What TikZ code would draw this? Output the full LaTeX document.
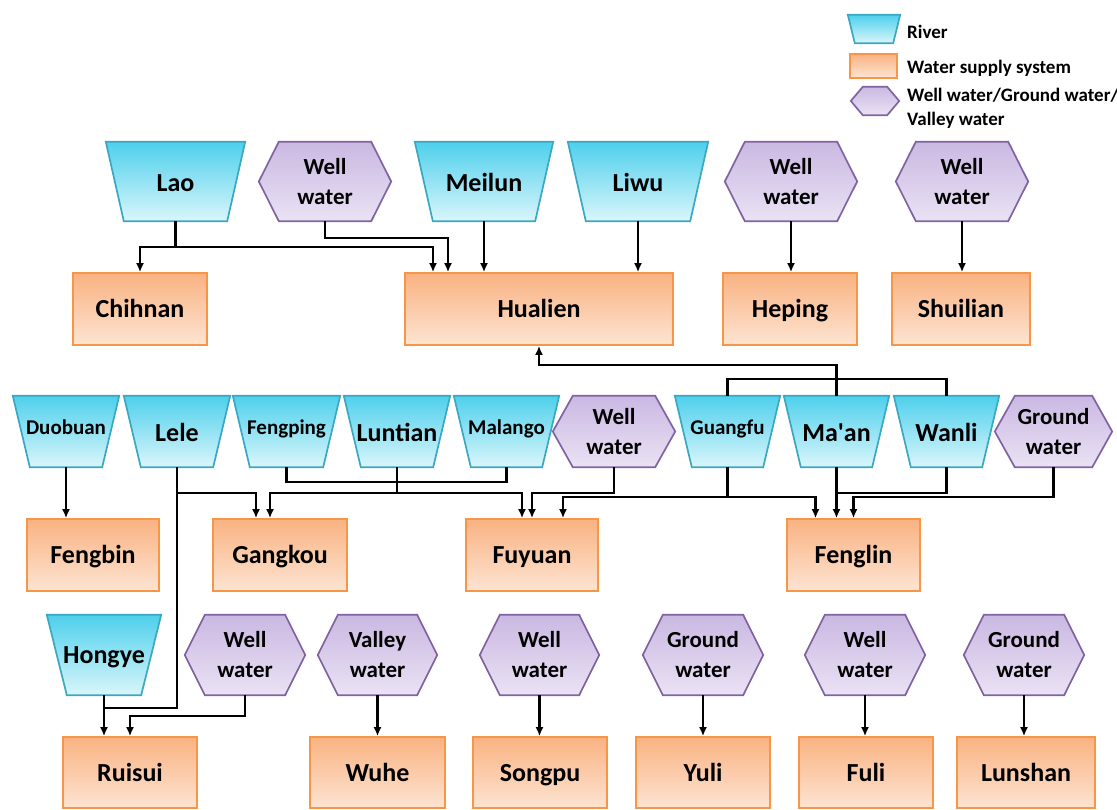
\documentclass[tikz,border=0pt]{standalone}
\usepackage{fontspec}
\setmainfont{Carlito}
\usetikzlibrary{arrows.meta,calc}
\pgfdeclarelayer{background}
\pgfsetlayers{background,main}
\definecolor{rivtop}{RGB}{78,208,236}
\definecolor{rivbot}{RGB}{218,246,251}
\definecolor{rivline}{RGB}{58,168,194}
\definecolor{boxtop}{RGB}{249,178,130}
\definecolor{boxbot}{RGB}{253,228,210}
\definecolor{boxline}{RGB}{247,150,70}
\definecolor{hextop}{RGB}{202,184,226}
\definecolor{hexbot}{RGB}{234,226,244}
\definecolor{hexline}{RGB}{128,100,162}
\newcommand\fbig{\fontsize{26}{30}\selectfont\bfseries}
\newcommand\fmid{\fontsize{21}{25}\selectfont\bfseries}
\newcommand\fhex{\fontsize{23}{30}\selectfont\bfseries}
\newcommand\fleg{\fontsize{19}{24}\selectfont\bfseries}
\newcommand\rivshape[2][18]{\path[rivs] (#2.north west) -- (#2.north east) -- ([xshift=-#1pt]#2.south east) -- ([xshift=#1pt]#2.south west) -- cycle;}
\newcommand\hexshape[2][20]{\path[hexs] (#2.west) -- ([xshift=#1pt]#2.north west) -- ([xshift=-#1pt]#2.north east) -- (#2.east) -- ([xshift=-#1pt]#2.south east) -- ([xshift=#1pt]#2.south west) -- cycle;}
\begin{document}
\begin{tikzpicture}[x=1pt,y=-1pt,
  shp/.style={inner sep=0pt, align=center, text=black},
  rowA/.style={shp, minimum height=79pt},
  rowB/.style={shp, minimum height=71pt},
  rowC/.style={shp, minimum height=80pt},
  bigA/.style={font=\fbig, text height=21pt, text depth=0pt},
  bigB/.style={font=\fbig, text height=19pt, text depth=0pt},
  bigC/.style={font=\fbig, text height=17pt, text depth=1pt},
  smallB/.style={font=\fmid, text height=14pt, text depth=7pt},
  hexf/.style={font=\fhex},
  rivs/.style={top color=rivtop, bottom color=rivbot, draw=rivline, line width=1.7pt, line join=miter},
  hexs/.style={top color=hextop, bottom color=hexbot, draw=hexline, line width=1.7pt, line join=miter},
  sbox/.style={shp, top color=boxtop, bottom color=boxbot, draw=boxline, line width=1.7pt, font=\fbig, text height=18pt, text depth=1pt},
  boxA/.style={sbox, minimum height=72pt},
  boxB/.style={sbox, minimum height=71pt},
  con/.style={line width=2.1pt, black},
  arr/.style={con, -{Latex[length=9pt,width=8pt]}},
  legtext/.style={inner sep=0pt, anchor=base west, font=\fleg}
]
\useasboundingbox (0,0) rectangle (1117,810);

% ---------- legend ----------
\node[shp, minimum width=52pt, minimum height=28pt] (legR) at (874,29) {};
\node[shp, top color=boxtop, bottom color=boxbot, draw=boxline, line width=1.5pt, minimum width=47pt, minimum height=24pt] (legB) at (873.5,66) {};
\node[shp, minimum width=48pt, minimum height=28pt] (legH) at (875,101) {};
\node[legtext] (legRt) at (907,39) {River};
\node[legtext] (legBt) at (907,74) {Water supply system};
\node[legtext] (legHt) at (907,102) {Well water/Ground water/};
\node[legtext] (legHt2) at (907,126) {Valley water};

% ---------- top row ----------
\node[rowA, minimum width=139pt, bigA] (lao) at (175.5,181.5) {Lao};
\node[rowA, minimum width=132pt, hexf] (wwA) at (325,181.5) {Well\\water};
\node[rowA, minimum width=138pt, bigA] (meilun) at (484,181.5) {Meilun};
\node[rowA, minimum width=140pt, bigA] (liwu) at (638,181.5) {Liwu};
\node[rowA, minimum width=132pt, hexf] (wwB) at (791,181.5) {Well\\water};
\node[rowA, minimum width=132pt, hexf] (wwC) at (962,181.5) {Well\\water};

\node[boxA, minimum width=134pt] (chihnan) at (140,309) {Chihnan};
\node[boxA, minimum width=268pt] (hualien) at (539,309) {Hualien};
\node[boxA, minimum width=134pt] (heping) at (790,309) {Heping};
\node[boxA, minimum width=138pt] (shuilian) at (961,309) {Shuilian};

% ---------- middle row ----------
\node[rowB, minimum width=106pt, smallB] (duobuan) at (66,431.5) {Duobuan};
\node[rowB, minimum width=106pt, bigB] (lele) at (177,431.5) {Lele};
\node[rowB, minimum width=107pt, smallB] (fengping) at (286.5,431.5) {Fengping};
\node[rowB, minimum width=106pt, bigB] (luntian) at (397,431.5) {Luntian};
\node[rowB, minimum width=105pt, smallB] (malango) at (506.5,431.5) {Malango};
\node[rowB, minimum width=122pt, hexf] (wwD) at (614,431.5) {Well\\water};
\node[rowB, minimum width=105pt, smallB] (guangfu) at (727.5,431.5) {Guangfu};
\node[rowB, minimum width=105pt, bigB] (maan) at (836.5,431.5) {Ma\textquotesingle an};
\node[rowB, minimum width=105pt, bigB] (wanli) at (946.5,431.5) {Wanli};
\node[rowB, minimum width=117pt, hexf] (gwA) at (1053.5,431.5) {Ground\\water};

\node[boxA, minimum width=132pt] (fengbin) at (93,555) {Fengbin};
\node[boxA, minimum width=134pt] (gangkou) at (280,555) {Gangkou};
\node[boxA, minimum width=132pt] (fuyuan) at (532,555) {Fuyuan};
\node[boxA, minimum width=133pt] (fenglin) at (853.5,555) {Fenglin};

% ---------- bottom row ----------
\node[rowC, minimum width=114pt, bigC] (hongye) at (104,655) {Hongye};
\node[rowC, minimum width=120pt, hexf] (wwE) at (245,655) {Well\\water};
\node[rowC, minimum width=119pt, hexf] (valley) at (377.5,655) {Valley\\water};
\node[rowC, minimum width=119pt, hexf] (wwF) at (539.5,655) {Well\\water};
\node[rowC, minimum width=120pt, hexf] (gwB) at (703,655) {Ground\\water};
\node[rowC, minimum width=120pt, hexf] (wwG) at (865,655) {Well\\water};
\node[rowC, minimum width=120pt, hexf] (gwC) at (1024,655) {Ground\\water};

\node[boxB, minimum width=134pt] (ruisui) at (130,772.5) {Ruisui};
\node[boxB, minimum width=135pt] (wuhe) at (377.5,772.5) {Wuhe};
\node[boxB, minimum width=134pt] (songpu) at (540,772.5) {Songpu};
\node[boxB, minimum width=134pt] (yuli) at (703,772.5) {Yuli};
\node[boxB, minimum width=134pt] (fuli) at (866,772.5) {Fuli};
\node[boxB, minimum width=138pt] (lunshan) at (1026,772.5) {Lunshan};

% ---------- shapes behind the texts ----------
\begin{pgfonlayer}{background}
\rivshape[7]{legR}
\hexshape[12]{legH}
\rivshape{lao}\rivshape{meilun}\rivshape{liwu}
\hexshape{wwA}\hexshape{wwB}\hexshape{wwC}
\rivshape[17]{duobuan}\rivshape[17]{lele}\rivshape[17]{fengping}\rivshape[17]{luntian}\rivshape[17]{malango}
\rivshape[17]{guangfu}\rivshape[17]{maan}\rivshape[17]{wanli}
\hexshape{wwD}\hexshape{gwA}
\rivshape[20]{hongye}
\hexshape{wwE}\hexshape{valley}\hexshape{wwF}\hexshape{gwB}\hexshape{wwG}\hexshape{gwC}
\end{pgfonlayer}

% ---------- connectors: top ----------
\draw[arr] (lao.south) -- ++(0,26) -| (chihnan.north);
\draw[arr] (lao.south) -- ++(0,26) -| ([xshift=-106pt]hualien.north);
\draw[arr] (wwA.south) -- ++(0,17) -| ([xshift=-91pt]hualien.north);
\draw[arr] (meilun.south) -- (meilun.south |- hualien.north);
\draw[arr] (liwu.south) -- (liwu.south |- hualien.north);
\draw[arr] (wwB.south) -- (wwB.south |- heping.north);
\draw[arr] (wwC.south) -- (wwC.south |- shuilian.north);

% ---------- connectors: middle ----------
\draw[arr] (maan.north) -- ++(0,-31) -| (hualien.south);
\draw[con] (guangfu.north) -- ++(0,-17) -| (wanli.north);
\draw[arr] (duobuan.south) -- (duobuan.south |- fengbin.north);
\draw[arr] (lele.south) -- ++(0,26) -| ([xshift=-24pt]gangkou.north);
\draw[con] (lele.south) |- ($(hongye.south)+(0,13)$);
\draw[con] (fengping.south) -- ++(0,15) -| (malango.south);
\draw[arr] (luntian.south) -- ++(0,26) -| ([xshift=-10pt]gangkou.north);
\draw[arr] (luntian.south) -- ++(0,26) -| ([xshift=-10pt]fuyuan.north);
\draw[arr] (wwD.south) -- ++(0,26) -| (fuyuan.north);
\draw[arr] (guangfu.south) -- ++(0,30) -| ([xshift=31pt]fuyuan.north);
\draw[arr] (guangfu.south) -- ++(0,30) -| ([xshift=-38pt]fenglin.north);
\draw[arr] (maan.south) -- (maan.south |- fenglin.north);
\draw[con] (wanli.south) |- ($(maan.south)+(0,26)$);
\draw[arr] (gwA.south) -- ++(0,30) -| (fenglin.north);

% ---------- connectors: bottom ----------
\draw[arr] (hongye.south) -- (hongye.south |- ruisui.north);
\draw[arr] (wwE.south) -- ++(0,21) -| (ruisui.north);
\draw[arr] (valley.south) -- (valley.south |- wuhe.north);
\draw[arr] (wwF.south) -- (wwF.south |- songpu.north);
\draw[arr] (gwB.south) -- (gwB.south |- yuli.north);
\draw[arr] (wwG.south) -- (wwG.south |- fuli.north);
\draw[arr] (gwC.south) -- (gwC.south |- lunshan.north);
\end{tikzpicture}
\end{document}
